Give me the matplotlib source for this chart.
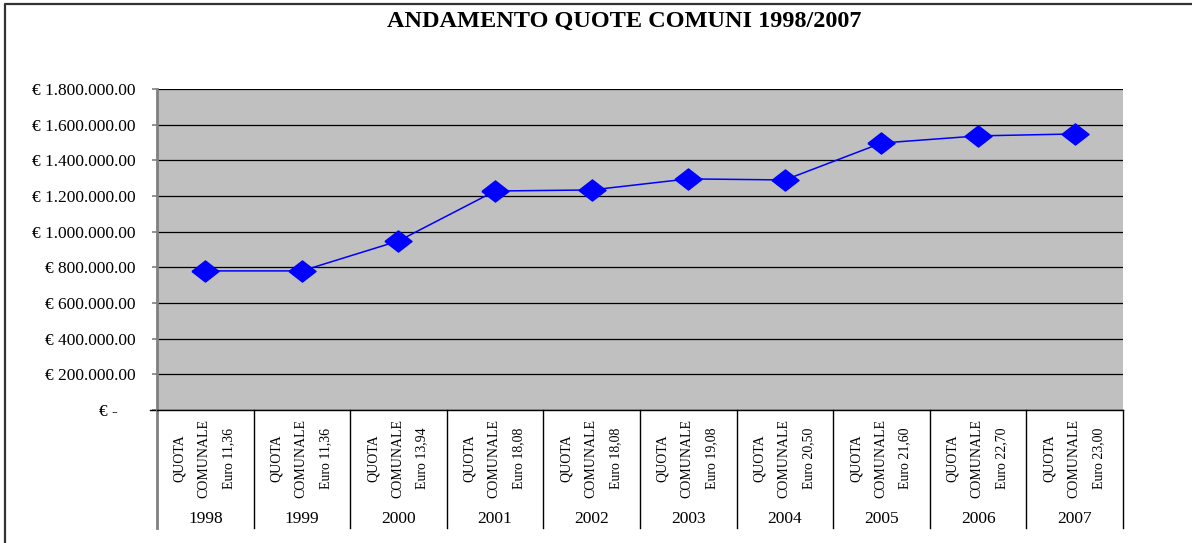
import matplotlib.pyplot as plt
import matplotlib.transforms as mtransforms
from matplotlib.lines import Line2D
import numpy as np

plt.rcParams['font.family'] = ['Liberation Serif', 'DejaVu Serif']

# data
anni = ['1998', '1999', '2000', '2001', '2002', '2003', '2004', '2005', '2006', '2007']
quote_euro = ['11,36', '11,36', '13,94', '18,08', '18,08', '19,08', '20,50', '21,60', '22,70', '23,00']
importi = [780000, 780000, 948000, 1228000, 1234000, 1296000, 1290000, 1497000, 1537000, 1548000]
y_ticks = [0, 200000, 400000, 600000, 800000, 1000000, 1200000, 1400000, 1600000, 1800000]

fig = plt.figure(figsize=(11.92, 5.43), dpi=100)
ax = fig.add_axes([0.1317, 0.2449, 0.8104, 0.5912])
ax.set_facecolor('#C0C0C0')

x = np.arange(len(anni)) + 0.5
diamond = [(-1, 0), (0, 0.78), (1, 0), (0, -0.78), (-1, 0)]
ax.plot(x, importi, color='#0000FF', lw=1.1, marker=diamond, markersize=19.5,
        markerfacecolor='#0000FF', markeredgecolor='#0000FF', zorder=3)

ax.set_xlim(0, len(anni))
ax.set_ylim(0, 1800000)
ax.set_yticks(y_ticks)
etichette = ['€ -' if v == 0 else '€ ' + f'{v:,.2f}'.replace(',', '.') for v in y_ticks]
ax.set_yticklabels(etichette, fontsize=12.5)
ax.tick_params(axis='y', direction='out', length=3.6, color='#808080', width=1.2, pad=12)
ax.yaxis.get_major_ticks()[0].set_pad(25)
ax.set_xticks([])
ax.grid(axis='y', color='black', lw=0.9)
ax.set_axisbelow(True)

for s in ['top', 'right']:
    ax.spines[s].set_visible(False)
ax.spines['left'].set_color('#808080')
ax.spines['left'].set_linewidth(2)
ax.spines['bottom'].set_color('black')
ax.spines['bottom'].set_linewidth(1)

# category area below the axis
trans = mtransforms.blended_transform_factory(ax.transData, ax.transAxes)
ax.plot([-0.07, 0], [0, 0], transform=trans, color='black', lw=1, clip_on=False)
for b in range(len(anni) + 1):
    ax.plot([b, b], [0, -0.368], transform=trans, clip_on=False,
            color='#808080' if b == 0 else 'black', lw=2 if b == 0 else 1)

for i, anno in enumerate(anni):
    ax.text(x[i] - 0.01, -0.15, 'QUOTA\nCOMUNALE\nEuro ' + quote_euro[i], transform=trans,
            rotation=90, ha='center', va='center', multialignment='center',
            fontsize=10, linespacing=2.15)
    ax.text(x[i], -0.338, anno, transform=trans, ha='center', va='center', fontsize=12.5)

fig.text(0.524, 0.961, 'ANDAMENTO QUOTE COMUNI 1998/2007', ha='center', va='center',
         fontsize=17.5, fontweight='bold')

# chart frame
fig.add_artist(Line2D([0.0042, 0.0042, 1.0], [0.0, 0.9926, 0.9926],
                      transform=fig.transFigure, color='#333333', lw=1.6))

fig.savefig('out.png', dpi=100)
